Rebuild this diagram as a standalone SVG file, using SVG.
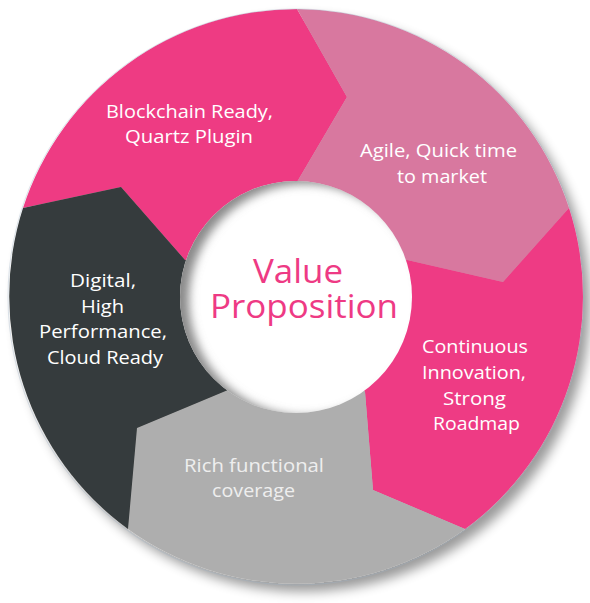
<svg xmlns="http://www.w3.org/2000/svg" width="590" height="603" viewBox="0 0 590 603">
  <style>
    .lbl { font-family: "Open Sans", "Liberation Sans", sans-serif; font-size: 18px; fill: #ffffff; text-anchor: middle; }
    .lbl.soft { fill: #eeeeee; }
    .title { font-family: "Open Sans", "Liberation Sans", sans-serif; font-size: 32px; fill: #ee3a84; text-anchor: middle; }
  </style>
  <defs>
    <filter id="drop" x="-10%" y="-10%" width="125%" height="125%">
      <feGaussianBlur in="SourceAlpha" stdDeviation="6"/>
      <feOffset dx="7" dy="8" result="b"/>
      <feComponentTransfer><feFuncA type="linear" slope="0.4"/></feComponentTransfer>
      <feMerge><feMergeNode/><feMergeNode in="SourceGraphic"/></feMerge>
    </filter>
    <filter id="soft" x="-20%" y="-20%" width="140%" height="140%">
      <feGaussianBlur stdDeviation="5"/>
    </filter>
    <clipPath id="innerClip"><circle cx="296" cy="297" r="116"/></clipPath>
  </defs>

  <g id="ring" filter="url(#drop)">
    <g id="blockchain">
      <path d="M296,297 L185,260 L121,187 L23,208 A288,288 0 0 1 297,9 L347,97 L297,182 Z" fill="#ee3a83"/>
    </g>
    <g id="agile">
      <path d="M296,297 L297,182 L347,97 L297,9 A288,288 0 0 1 569,208 L503,282 L407,260 Z" fill="#d8789f"/>
    </g>
    <g id="continuous">
      <path d="M296,297 L407,260 L503,282 L569,208 A288,288 0 0 1 465,529 L373,490 L365,392 Z" fill="#ee3a84"/>
    </g>
    <g id="rich">
      <path d="M296,297 L365,392 L373,490 L465,529 A288,288 0 0 1 128,529 L137,428 L228,390 Z" fill="#aeaeae"/>
    </g>
    <g id="digital">
      <path d="M296,297 L228,390 L137,428 L128,529 A288,288 0 0 1 23,208 L121,187 L185,260 Z" fill="#363b3c"/>
    </g>
  </g>
  <circle cx="296" cy="297" r="288" fill="none" stroke="#9fb3c8" stroke-width="0.6" stroke-opacity="0.6"/>

  <g id="center">
    <circle cx="296" cy="297" r="116" fill="#ffffff"/>
    <g clip-path="url(#innerClip)">
      <circle cx="305" cy="300" r="133" fill="none" stroke="#8a8a8a" stroke-width="34" filter="url(#soft)"/>
    </g>
    <text class="title" x="298" y="283" textLength="90" lengthAdjust="spacingAndGlyphs">Value</text>
    <text class="title" x="304" y="318" textLength="188" lengthAdjust="spacingAndGlyphs">Proposition</text>
  </g>

  <g id="labels">
    <text class="lbl" x="189.5" y="118" textLength="167" lengthAdjust="spacingAndGlyphs">Blockchain Ready,</text>
    <text class="lbl" x="189" y="143" textLength="128" lengthAdjust="spacingAndGlyphs">Quartz Plugin</text>

    <text class="lbl" x="438.5" y="157" textLength="157" lengthAdjust="spacingAndGlyphs">Agile, Quick time</text>
    <text class="lbl" x="442" y="183" textLength="90" lengthAdjust="spacingAndGlyphs">to market</text>

    <text class="lbl" x="103" y="287" textLength="66" lengthAdjust="spacingAndGlyphs">Digital,</text>
    <text class="lbl" x="102.5" y="313" textLength="43" lengthAdjust="spacingAndGlyphs">High</text>
    <text class="lbl" x="103" y="338" textLength="128" lengthAdjust="spacingAndGlyphs">Performance,</text>
    <text class="lbl" x="105" y="364" textLength="116" lengthAdjust="spacingAndGlyphs">Cloud Ready</text>

    <text class="lbl" x="475" y="353" textLength="106" lengthAdjust="spacingAndGlyphs">Continuous</text>
    <text class="lbl" x="474" y="379" textLength="104" lengthAdjust="spacingAndGlyphs">Innovation,</text>
    <text class="lbl" x="474.5" y="405" textLength="63" lengthAdjust="spacingAndGlyphs">Strong</text>
    <text class="lbl" x="476.5" y="430" textLength="87" lengthAdjust="spacingAndGlyphs">Roadmap</text>

    <text class="lbl soft" x="254" y="472" textLength="140" lengthAdjust="spacingAndGlyphs">Rich functional</text>
    <text class="lbl soft" x="253.5" y="497" textLength="83" lengthAdjust="spacingAndGlyphs">coverage</text>
  </g>
</svg>
